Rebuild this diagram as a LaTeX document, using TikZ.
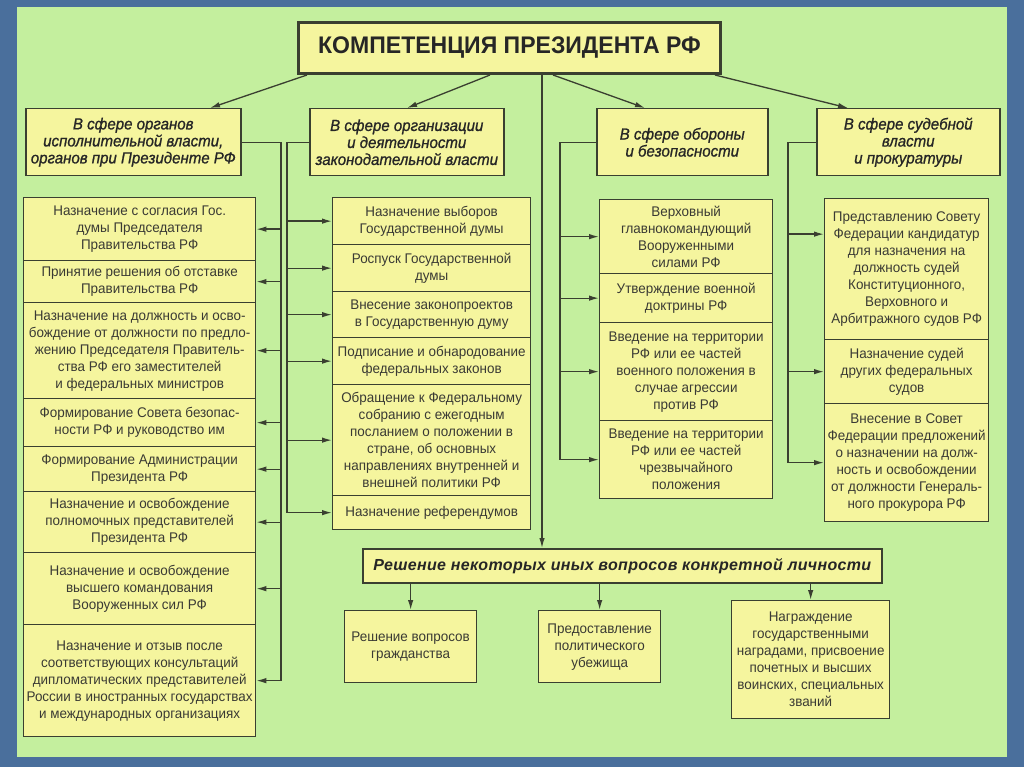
\documentclass[tikz,border=0pt]{standalone}
\usepackage{fontspec}
\setmainfont{Liberation Sans}
\newfontfamily\cellfont[FakeStretch=0.96]{Liberation Sans}
\newfontfamily\sphfont[FakeStretch=0.94,FakeBold=1]{Liberation Sans}
\newfontfamily\ttlfont[FakeStretch=0.96]{Liberation Sans}
\newfontfamily\rfont[LetterSpace=2]{Liberation Sans}
\usetikzlibrary{arrows.meta,calc}
\definecolor{bgblue}{HTML}{4A6F9C}
\definecolor{panel}{HTML}{C4EF9E}
\definecolor{boxy}{HTML}{F5F59E}
\definecolor{ink}{HTML}{3A3F30}
\definecolor{txt}{HTML}{3A3A34}
\begin{document}
\begin{tikzpicture}[x=1pt,y=-1pt,
  cell/.style={draw=ink, line width=1.3pt, fill=boxy, inner sep=0pt, anchor=north west,
    align=center, text=txt, font=\cellfont\fontsize{14}{17}\selectfont},
  sphere/.style={cell, line width=1.5pt, text=black!85,
    font=\sphfont\itshape\fontsize{16}{17}\selectfont},
  titlebox/.style={cell, line width=3pt, text=black!85,
    font=\ttlfont\bfseries\fontsize{24}{28}\selectfont},
  othbox/.style={cell, line width=1.6pt, text=black!85,
    font=\rfont\bfseries\itshape\fontsize{16}{18}\selectfont},
  conn/.style={draw=ink, line width=1.3pt},
  arr/.style={conn, -{Latex[length=10pt,width=5.5pt]}},
]
\useasboundingbox (0,0) rectangle (1024,767);
\fill[bgblue] (0,0) rectangle (1024,767);
\fill[panel] (17,7) rectangle (1007,757);

% title
\node[titlebox, minimum width=422pt, minimum height=51pt] (title) at (297,21) {КОМПЕТЕНЦИЯ ПРЕЗИДЕНТА РФ};

% spheres
\node[sphere, minimum width=215pt, minimum height=67pt] (b1) at (25,108) {В сфере органов\\исполнительной власти,\\органов при Президенте РФ};
\node[sphere, minimum width=194pt, minimum height=67pt] (b2) at (309,108) {В сфере организации\\и деятельности\\законодательной власти};
\node[sphere, minimum width=171pt, minimum height=67pt] (b3) at (596,108) {В сфере обороны\\и безопасности};
\node[sphere, minimum width=183pt, minimum height=67pt] (b4) at (816,108) {В сфере судебной\\власти\\и прокуратуры};

% left column
\node[cell, minimum width=232pt, minimum height=63pt] (l1) at (23,197) {Назначение с согласия Гос.\\думы Председателя\\Правительства РФ};
\node[cell, minimum width=232pt, minimum height=42pt] (l2) at (23,260) {Принятие решения об отставке\\Правительства РФ};
\node[cell, minimum width=232pt, minimum height=96pt] (l3) at (23,302) {Назначение на должность и осво-\\бождение от должности по предло-\\жению Председателя Правитель-\\ства РФ его заместителей\\и федеральных министров};
\node[cell, minimum width=232pt, minimum height=48pt] (l4) at (23,398) {Формирование Совета безопас-\\ности РФ и руководство им};
\node[cell, minimum width=232pt, minimum height=45pt] (l5) at (23,446) {Формирование Администрации\\Президента РФ};
\node[cell, minimum width=232pt, minimum height=61pt] (l6) at (23,491) {Назначение и освобождение\\полномочных представителей\\Президента РФ};
\node[cell, minimum width=232pt, minimum height=72pt] (l7) at (23,552) {Назначение и освобождение\\высшего командования\\Вооруженных сил РФ};
\node[cell, minimum width=232pt, minimum height=112pt] (l8) at (23,624) {Назначение и отзыв после\\соответствующих консультаций\\дипломатических представителей\\России в иностранных государствах\\и международных организациях};

% middle column
\node[cell, minimum width=198pt, minimum height=47pt] (m1) at (332,197) {Назначение выборов\\Государственной думы};
\node[cell, minimum width=198pt, minimum height=47pt] (m2) at (332,244) {Роспуск Государственной\\думы};
\node[cell, minimum width=198pt, minimum height=46pt] (m3) at (332,291) {Внесение законопроектов\\в Государственную думу};
\node[cell, minimum width=198pt, minimum height=47pt] (m4) at (332,337) {Подписание и обнародование\\федеральных законов};
\node[cell, minimum width=198pt, minimum height=111pt] (m5) at (332,384) {Обращение к Федеральному\\собранию с ежегодным\\посланием о положении в\\стране, об основных\\направлениях внутренней и\\внешней политики РФ};
\node[cell, minimum width=198pt, minimum height=34pt] (m6) at (332,495) {Назначение референдумов};

% defence column
\node[cell, minimum width=173pt, minimum height=74pt] (d1) at (599,199) {Верховный\\главнокомандующий\\Вооруженными\\силами РФ};
\node[cell, minimum width=173pt, minimum height=49pt] (d2) at (599,273) {Утверждение военной\\доктрины РФ};
\node[cell, minimum width=173pt, minimum height=98pt] (d3) at (599,322) {Введение на территории\\РФ или ее частей\\военного положения в\\случае агрессии\\против РФ};
\node[cell, minimum width=173pt, minimum height=78pt] (d4) at (599,420) {Введение на территории\\РФ или ее частей\\чрезвычайного\\положения};

% judicial column
\node[cell, minimum width=164pt, minimum height=141pt] (j1) at (824,198) {Представлению Совету\\Федерации кандидатур\\для назначения на\\должность судей\\Конституционного,\\Верховного и\\Арбитражного судов РФ};
\node[cell, minimum width=164pt, minimum height=64pt] (j2) at (824,339) {Назначение судей\\других федеральных\\судов};
\node[cell, minimum width=164pt, minimum height=118pt] (j3) at (824,403) {Внесение в Совет\\Федерации предложений\\о назначении на долж-\\ность и освобождении\\от должности Генераль-\\ного прокурора РФ};

% other questions
\node[othbox, minimum width=519pt, minimum height=34pt] (r) at (362,548) {Решение некоторых иных вопросов конкретной личности};
\node[cell, minimum width=132pt, minimum height=72pt] (c1) at (344,610) {Решение вопросов\\гражданства};
\node[cell, minimum width=122pt, minimum height=72pt] (c2) at (538,610) {Предоставление\\политического\\убежища};
\node[cell, minimum width=158pt, minimum height=118pt] (c3) at (731,600) {Награждение\\государственными\\наградами, присвоение\\почетных и высших\\воинских, специальных\\званий};

% arrows from title
\draw[arr] ([xshift=10pt]title.south west) -- ([xshift=185pt]b1.north west);
\draw[arr] ([xshift=193pt]title.south west) -- ([xshift=98pt]b2.north west);
\draw[arr] ([xshift=256pt]title.south west) -- ([xshift=49pt]b3.north west);
\draw[arr] ([xshift=-7pt]title.south east) -- ([xshift=32pt]b4.north west);
\coordinate (vt) at ([xshift=245pt]title.south west);
\draw[arr] (vt) -- (vt |- r.north);

% trunks
\coordinate (t1) at (281,0);
\coordinate (t2) at (287,0);
\coordinate (t3) at (560,0);
\coordinate (t4) at (788,0);
\draw[conn] (b1.east) -- (b1.east -| t1) -- (t1 |- l8.east);
\foreach \n in {l1,l2,l3,l4,l5,l6,l7,l8} \draw[arr] (t1 |- \n.east) -- (\n.east);
\draw[conn] (b2.west) -- (b2.west -| t2) -- (t2 |- m6.west);
\foreach \n in {m1,m2,m3,m4,m5,m6} \draw[arr] (t2 |- \n.west) -- (\n.west);
\draw[conn] (b3.west) -- (b3.west -| t3) -- (t3 |- d4.west);
\foreach \n in {d1,d2,d3,d4} \draw[arr] (t3 |- \n.west) -- (\n.west);
\coordinate (j1w) at ([yshift=35pt]j1.west);
\draw[conn] (b4.west) -- (b4.west -| t4) -- (t4 |- j3.west);
\draw[arr] (t4 |- j1w) -- (j1w);
\foreach \n in {j2,j3} \draw[arr] (t4 |- \n.west) -- (\n.west);

% arrows to bottom boxes
\foreach \n in {c1,c2,c3} \draw[arr] (r.south -| \n.north) -- (\n.north);
\end{tikzpicture}
\end{document}
